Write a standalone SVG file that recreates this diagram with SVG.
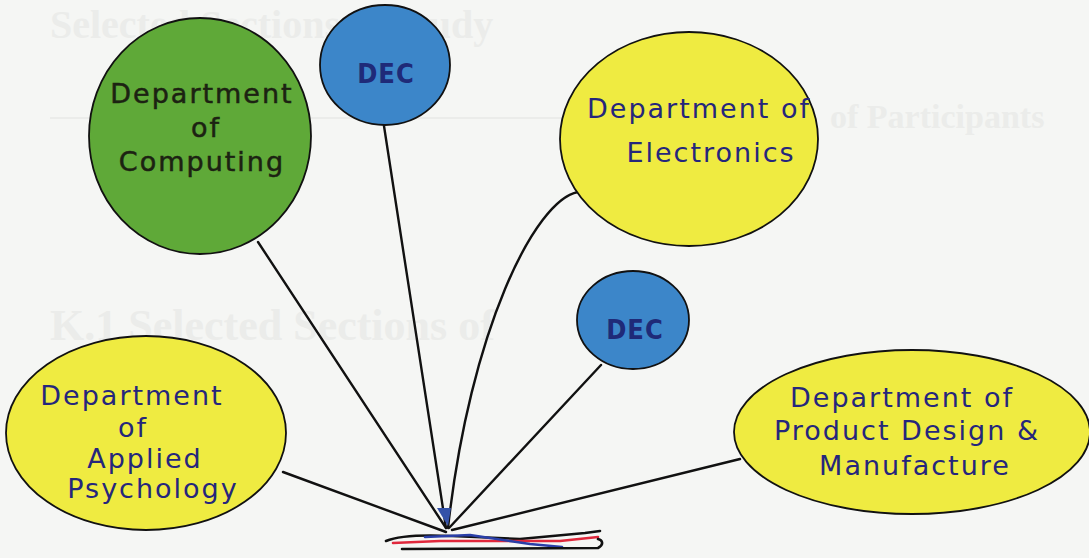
<svg xmlns="http://www.w3.org/2000/svg" width="1089" height="558" viewBox="0 0 1089 558">
  <style>
    .ghost { font-family: "Liberation Serif", serif; font-weight: bold; fill: #ebecea; }
    .node { stroke: #111; stroke-width: 1.8; }
    .yellow { fill: #efeb41; }
    .blue { fill: #3c86c9; }
    .green { fill: #5fa938; }
    .lbl { font-family: "DejaVu Sans", Verdana, sans-serif; font-size: 27px; letter-spacing: 2px; fill: #25267c; text-anchor: middle; }
    .dark { fill: #1c2212; stroke: #1c2212; stroke-width: 0.5; }
    .dec { font-family: "DejaVu Sans Condensed", "DejaVu Sans", sans-serif; font-weight: bold; font-size: 27px; letter-spacing: 1px; fill: #1f2a78; text-anchor: middle; }
    .conn { fill: none; stroke: #111; stroke-width: 2.4; stroke-linecap: round; }
    .base { fill: none; stroke-width: 2.6; stroke-linecap: round; stroke-linejoin: round; }
  </style>

  <rect width="1089" height="558" fill="#f5f6f4"/>

  <!-- faint page text behind the chart -->
  <g id="page-text">
    <text class="ghost" x="50" y="38" font-size="40">Selected Sections of Study</text>
    <line x1="50" y1="118" x2="650" y2="118" stroke="#ebecea" stroke-width="2"/>
    <text class="ghost" x="830" y="128" font-size="34">of Participants</text>
    <text class="ghost" x="50" y="340" font-size="44">K.1   Selected Sections of</text>
  </g>

  <!-- connectors -->
  <g id="connectors">
    <path class="conn" d="M258,242 L446,528"/>
    <path class="conn" d="M384,126 L446,528"/>
    <path class="conn" d="M578,192 C535,200 470,330 448,528"/>
    <path class="conn" d="M601,365 L449,528"/>
    <path class="conn" d="M283,472 L446,532"/>
    <path class="conn" d="M740,459 L452,530"/>
    <path d="M437,508 L451,508 L448,526 Z" fill="#3452a8"/>
  </g>

  <!-- base scribble under the hub -->
  <g id="hub-base">
    <path class="base" stroke="#111" d="M386,541 C400,535 430,535 452,536 L520,539 L585,533 L600,531"/>
    <path class="base" stroke="#e0283c" d="M393,543 L440,541 L500,541 L560,541 L598,537"/>
    <path class="base" stroke="#2a3fa8" d="M425,537 L470,535 L530,544 L562,547"/>
    <path class="base" stroke="#111" d="M402,549 L598,548 C604,545 603,540 598,539"/>
  </g>

  <g id="dept-computing">
    <ellipse class="node green" cx="200" cy="136" rx="111" ry="118"/>
    <text class="lbl dark" x="202" y="103">Department</text>
    <text class="lbl dark" x="206" y="137">of</text>
    <text class="lbl dark" x="202" y="171">Computing</text>
  </g>

  <g id="dec-top">
    <ellipse class="node blue" cx="385" cy="65" rx="65" ry="60"/>
    <text class="dec" x="386" y="83">DEC</text>
  </g>

  <g id="dept-electronics">
    <ellipse class="node yellow" cx="689" cy="139" rx="129" ry="107"/>
    <text class="lbl" x="699" y="118">Department of</text>
    <text class="lbl" x="711" y="162">Electronics</text>
  </g>

  <g id="dec-small">
    <ellipse class="node blue" cx="633" cy="320" rx="56" ry="49"/>
    <text class="dec" x="635" y="339">DEC</text>
  </g>

  <g id="dept-applied-psychology">
    <ellipse class="node yellow" cx="146" cy="433" rx="140" ry="97"/>
    <text class="lbl" x="132" y="405">Department</text>
    <text class="lbl" x="133" y="437">of</text>
    <text class="lbl" x="145" y="468">Applied</text>
    <text class="lbl" x="153" y="498">Psychology</text>
  </g>

  <g id="dept-product-design">
    <ellipse class="node yellow" cx="912" cy="432" rx="178" ry="82"/>
    <text class="lbl" x="902" y="407">Department of</text>
    <text class="lbl" x="907" y="440">Product Design &amp;</text>
    <text class="lbl" x="915" y="475">Manufacture</text>
  </g>
</svg>
